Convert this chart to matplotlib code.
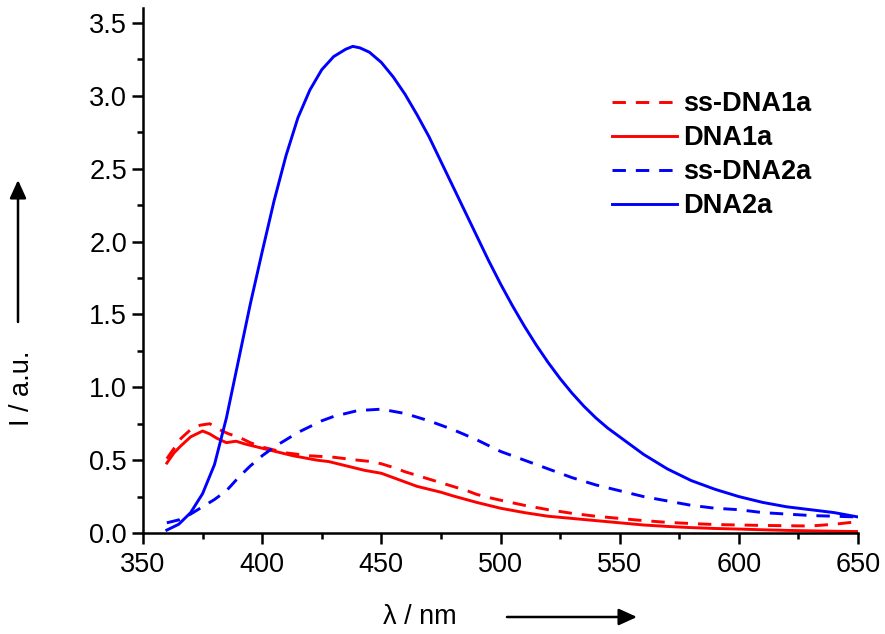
import matplotlib
matplotlib.use("Agg")
import matplotlib.pyplot as plt
from matplotlib.ticker import MultipleLocator, FormatStrFormatter
from matplotlib.patches import FancyArrowPatch

plt.rcParams['font.family'] = ['Liberation Sans', 'DejaVu Sans']

# ss-DNA1a (red dashed)
wl_ss1 = [360, 363, 366, 370, 374, 378, 382, 386, 390, 395, 400, 405, 410, 415, 420, 430,
          440, 446, 450, 456, 460, 466, 470, 476, 480, 486, 490, 496, 500, 510, 520, 530,
          540, 550, 560, 570, 580, 590, 600, 610, 620, 630, 640, 650]
ss_dna1a = [0.51, 0.58, 0.65, 0.71, 0.74, 0.75, 0.71, 0.68, 0.66, 0.62, 0.59, 0.57, 0.55, 0.54,
            0.53, 0.52, 0.50, 0.49, 0.475, 0.445, 0.42, 0.39, 0.37, 0.34, 0.32, 0.29, 0.265,
            0.24, 0.225, 0.19, 0.16, 0.135, 0.115, 0.10, 0.085, 0.073, 0.065, 0.058, 0.055,
            0.052, 0.05, 0.048, 0.06, 0.078]

# DNA1a (red solid)
wl_ds1 = [360, 363, 366, 370, 375, 378, 381, 385, 389, 393, 398, 403, 408, 413, 418, 423, 428,
          433, 438, 443, 450, 455, 460, 465, 470, 475, 480, 490, 500, 510, 520, 530, 540, 550,
          560, 570, 580, 590, 600, 610, 620, 630, 640, 650]
dna1a = [0.48, 0.55, 0.60, 0.66, 0.70, 0.68, 0.65, 0.62, 0.63, 0.61, 0.59, 0.57, 0.55, 0.53,
         0.515, 0.50, 0.49, 0.47, 0.45, 0.43, 0.41, 0.38, 0.35, 0.32, 0.30, 0.28, 0.255, 0.21,
         0.17, 0.14, 0.115, 0.10, 0.085, 0.07, 0.055, 0.045, 0.037, 0.031, 0.027, 0.022, 0.018,
         0.015, 0.012, 0.01]

# ss-DNA2a (blue dashed)
wl_ss2 = [360, 365, 370, 375, 380, 385, 390, 395, 400, 405, 410, 415, 420, 425, 430, 440, 450,
          460, 470, 480, 490, 500, 510, 520, 530, 540, 550, 560, 570, 580, 590, 600, 610, 620,
          630, 640, 650]
ss_dna2a = [0.07, 0.09, 0.13, 0.18, 0.23, 0.29, 0.38, 0.46, 0.53, 0.59, 0.64, 0.69, 0.73, 0.77,
            0.80, 0.84, 0.85, 0.82, 0.77, 0.71, 0.64, 0.56, 0.50, 0.44, 0.38, 0.33, 0.29, 0.25,
            0.22, 0.19, 0.17, 0.16, 0.14, 0.13, 0.12, 0.115, 0.11]

# DNA2a (blue solid)
wl_ds2 = [360, 365, 370, 375, 380, 385, 390, 395, 400, 405, 410, 415, 420, 425, 430, 435, 438,
          441, 445, 450, 455, 460, 465, 470, 475, 480, 485, 490, 495, 500, 505, 510, 515, 520,
          525, 530, 535, 540, 545, 550, 560, 570, 580, 590, 600, 610, 620, 630, 640, 650]
dna2a = [0.02, 0.06, 0.14, 0.27, 0.47, 0.79, 1.18, 1.57, 1.93, 2.28, 2.59, 2.85, 3.04, 3.18,
         3.27, 3.32, 3.34, 3.33, 3.30, 3.23, 3.13, 3.01, 2.87, 2.72, 2.55, 2.38, 2.21, 2.04,
         1.87, 1.71, 1.56, 1.42, 1.29, 1.17, 1.06, 0.96, 0.87, 0.79, 0.72, 0.66, 0.54, 0.44,
         0.36, 0.30, 0.25, 0.21, 0.18, 0.16, 0.14, 0.11]

red = '#ff0000'
blue = '#0000ff'
dash = (0, (4.6, 3.4))
lw = 2.1
fs = 19.5

fig = plt.figure(figsize=(8.85, 6.34), dpi=100)
ax = fig.add_axes([143 / 885, 101 / 634, 715 / 885, 524.5 / 634])

ax.plot(wl_ss1, ss_dna1a, color=red, lw=lw, ls=dash, label='ss-DNA1a')
ax.plot(wl_ds1, dna1a, color=red, lw=lw, label='DNA1a')
ax.plot(wl_ss2, ss_dna2a, color=blue, lw=lw, ls=dash, label='ss-DNA2a')
ax.plot(wl_ds2, dna2a, color=blue, lw=lw, label='DNA2a')

ax.set_xlim(350, 650)
ax.set_ylim(0, 3.6)
ax.xaxis.set_major_locator(MultipleLocator(50))
ax.xaxis.set_minor_locator(MultipleLocator(25))
ax.yaxis.set_major_locator(MultipleLocator(0.5))
ax.yaxis.set_minor_locator(MultipleLocator(0.25))
ax.yaxis.set_major_formatter(FormatStrFormatter('%.1f'))

for s in ['top', 'right']:
    ax.spines[s].set_visible(False)
for s in ['left', 'bottom']:
    ax.spines[s].set_linewidth(1.8)

ax.tick_params(which='major', direction='out', length=8, width=1.8, labelsize=fs)
ax.tick_params(which='minor', direction='out', length=4.5, width=1.8)
ax.tick_params(axis='x', which='major', pad=6)
ax.tick_params(axis='y', which='major', pad=3.5)

leg = ax.legend(loc='upper left', bbox_to_anchor=(612 / 885, 1 - 91 / 634),
                bbox_transform=fig.transFigure, frameon=False, borderpad=0,
                borderaxespad=0, handlelength=2.4, handletextpad=0.22,
                labelspacing=0.3, prop={'size': fs, 'weight': 'bold'})

fig.text(22 / 885, 1 - 388 / 634, 'I / a.u.', rotation=90, fontsize=fs,
         ha='center', va='center')
fig.text(420 / 885, 1 - 617 / 634, 'λ / nm', fontsize=fs, ha='center', va='center')

arrow = dict(arrowstyle='-|>,head_length=0.55,head_width=0.25', color='black',
             lw=1.8, mutation_scale=20, shrinkA=0, shrinkB=0)
fig.add_artist(FancyArrowPatch((18 / 885, 1 - 322 / 634), (18 / 885, 1 - 180 / 634),
                               transform=fig.transFigure, **arrow))
fig.add_artist(FancyArrowPatch((507 / 885, 1 - 617 / 634), (637 / 885, 1 - 617 / 634),
                               transform=fig.transFigure, **arrow))

fig.savefig('out.png', dpi=100)
